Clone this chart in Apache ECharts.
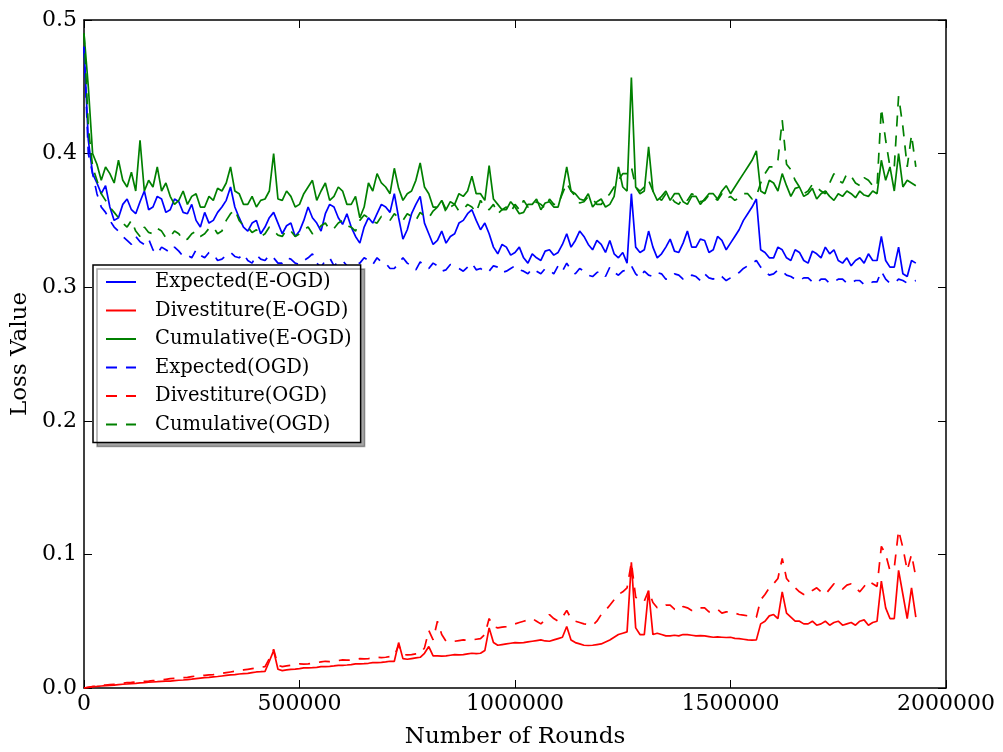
<!DOCTYPE html>
<html>
<head>
<meta charset="utf-8">
<script src="https://cdn.jsdelivr.net/npm/echarts@6/dist/echarts.min.js"></script>
<style>
html,body{margin:0;padding:0;background:#fff;}
#chart{width:1003px;height:752px;}
</style>
</head>
<body>
<div id="chart"></div>
<script>
// x grid (number of rounds)
const rounds = [0,10000,20000,30000,40000,50000,60000,70000,80000,90000,
100000,110000,120000,130000,140000,150000,160000,170000,180000,190000,
200000,210000,220000,230000,240000,250000,260000,270000,280000,290000,
300000,310000,320000,330000,340000,350000,360000,370000,380000,390000,
400000,410000,420000,430000,440000,450000,460000,470000,480000,490000,
500000,510000,520000,530000,540000,550000,560000,570000,580000,590000,
600000,610000,620000,630000,640000,650000,660000,670000,680000,690000,
700000,710000,720000,730000,740000,750000,760000,770000,780000,790000,
800000,810000,820000,830000,840000,850000,860000,870000,880000,890000,
900000,910000,920000,930000,940000,950000,960000,970000,980000,990000,
1000000,1010000,1020000,1030000,1040000,1050000,1060000,1070000,1080000,1090000,
1100000,1110000,1120000,1130000,1140000,1150000,1160000,1170000,1180000,1190000,
1200000,1210000,1220000,1230000,1240000,1250000,1260000,1270000,1280000,1290000,
1300000,1310000,1320000,1330000,1340000,1350000,1360000,1370000,1380000,1390000,
1400000,1410000,1420000,1430000,1440000,1450000,1460000,1470000,1480000,1490000,
1500000,1510000,1520000,1530000,1540000,1550000,1560000,1570000,1580000,1590000,
1600000,1610000,1620000,1630000,1640000,1650000,1660000,1670000,1680000,1690000,
1700000,1710000,1720000,1730000,1740000,1750000,1760000,1770000,1780000,1790000,
1800000,1810000,1820000,1830000,1840000,1850000,1860000,1870000,1880000,1890000,
1900000,1910000,1920000,1930000];

const expectedEOGD = [0.48,0.41,0.385,0.378,0.37,0.376,0.36,0.35,0.352,0.362,
0.366,0.358,0.355,0.364,0.372,0.358,0.36,0.368,0.366,0.356,
0.358,0.366,0.364,0.356,0.355,0.362,0.35,0.345,0.356,0.348,
0.35,0.356,0.36,0.365,0.375,0.36,0.352,0.345,0.342,0.348,
0.35,0.34,0.345,0.352,0.356,0.348,0.34,0.346,0.348,0.338,
0.342,0.35,0.36,0.352,0.348,0.342,0.355,0.362,0.36,0.352,
0.347,0.355,0.345,0.338,0.333,0.345,0.352,0.348,0.355,0.362,
0.36,0.356,0.37,0.352,0.336,0.343,0.355,0.362,0.368,0.348,
0.34,0.332,0.335,0.342,0.333,0.338,0.34,0.348,0.35,0.355,
0.358,0.35,0.343,0.348,0.34,0.33,0.325,0.332,0.33,0.324,
0.326,0.33,0.322,0.318,0.325,0.322,0.32,0.327,0.328,0.324,
0.326,0.332,0.34,0.33,0.335,0.342,0.338,0.332,0.328,0.335,
0.332,0.326,0.335,0.325,0.322,0.326,0.318,0.37,0.33,0.326,
0.328,0.342,0.33,0.322,0.325,0.33,0.336,0.327,0.326,0.333,
0.342,0.33,0.33,0.336,0.335,0.326,0.328,0.338,0.335,0.328,
0.333,0.338,0.343,0.35,0.355,0.36,0.366,0.328,0.326,0.322,
0.322,0.33,0.328,0.322,0.32,0.328,0.326,0.32,0.318,0.327,
0.325,0.322,0.33,0.325,0.328,0.32,0.318,0.322,0.316,0.32,
0.322,0.318,0.325,0.32,0.32,0.338,0.32,0.315,0.315,0.33,
0.31,0.308,0.32,0.318];

const divestitureEOGD = [0,0.0005,0.001,0.0012,0.0015,0.0018,0.002,0.0022,0.0025,0.0028,
0.003,0.0033,0.0035,0.0038,0.004,0.0043,0.0045,0.0047,0.005,0.0051,
0.0052,0.0055,0.0058,0.006,0.0063,0.0066,0.007,0.0074,0.0078,0.008,
0.0083,0.0086,0.009,0.0094,0.0098,0.01,0.0105,0.0108,0.011,0.0115,
0.012,0.0122,0.0125,0.02,0.028,0.014,0.013,0.0135,0.014,0.0142,
0.0145,0.015,0.015,0.0152,0.0155,0.016,0.016,0.0162,0.0165,0.017,
0.017,0.0172,0.0175,0.018,0.018,0.0182,0.0185,0.019,0.019,0.0192,
0.0195,0.02,0.02,0.034,0.022,0.0215,0.022,0.0225,0.023,0.026,
0.031,0.024,0.024,0.0238,0.024,0.0245,0.025,0.0248,0.025,0.0255,
0.026,0.0258,0.026,0.028,0.045,0.034,0.032,0.0325,0.033,0.0335,
0.034,0.0338,0.034,0.0345,0.035,0.0355,0.036,0.0352,0.035,0.036,
0.037,0.038,0.046,0.036,0.034,0.033,0.032,0.0318,0.032,0.0325,
0.033,0.0345,0.036,0.038,0.04,0.041,0.042,0.094,0.045,0.04,
0.04,0.073,0.04,0.041,0.04,0.039,0.039,0.0395,0.039,0.04,
0.04,0.0395,0.039,0.0392,0.039,0.0385,0.038,0.0382,0.038,0.0378,
0.038,0.0372,0.037,0.0365,0.036,0.0358,0.036,0.048,0.05,0.054,
0.055,0.052,0.072,0.056,0.053,0.05,0.05,0.048,0.048,0.05,
0.047,0.048,0.05,0.047,0.049,0.05,0.047,0.048,0.049,0.047,
0.05,0.051,0.047,0.049,0.05,0.08,0.06,0.052,0.052,0.088,
0.07,0.052,0.075,0.053];

const cumulativeEOGD = [0.49,0.45,0.40,0.392,0.38,0.39,0.385,0.378,0.395,0.38,
0.375,0.386,0.372,0.41,0.372,0.38,0.375,0.39,0.372,0.378,
0.368,0.362,0.365,0.372,0.362,0.368,0.37,0.36,0.36,0.368,
0.365,0.374,0.372,0.378,0.39,0.372,0.37,0.362,0.362,0.368,
0.36,0.365,0.366,0.372,0.40,0.366,0.365,0.372,0.368,0.36,
0.362,0.37,0.375,0.38,0.365,0.372,0.378,0.365,0.368,0.375,
0.372,0.362,0.362,0.368,0.352,0.36,0.378,0.372,0.385,0.378,
0.375,0.37,0.389,0.374,0.365,0.37,0.372,0.38,0.393,0.375,
0.37,0.36,0.36,0.365,0.358,0.364,0.362,0.37,0.368,0.372,
0.383,0.37,0.37,0.365,0.391,0.366,0.362,0.358,0.358,0.364,
0.36,0.355,0.356,0.362,0.362,0.366,0.358,0.363,0.364,0.36,
0.36,0.372,0.39,0.372,0.37,0.366,0.365,0.37,0.36,0.364,
0.366,0.36,0.362,0.368,0.39,0.375,0.372,0.457,0.375,0.37,
0.372,0.405,0.372,0.365,0.368,0.372,0.365,0.37,0.37,0.364,
0.362,0.368,0.368,0.362,0.366,0.37,0.37,0.366,0.372,0.376,
0.37,0.375,0.38,0.385,0.39,0.395,0.402,0.372,0.37,0.38,
0.378,0.372,0.385,0.376,0.368,0.374,0.375,0.368,0.37,0.374,
0.366,0.37,0.372,0.368,0.365,0.37,0.368,0.372,0.37,0.367,
0.372,0.369,0.368,0.372,0.37,0.395,0.38,0.39,0.372,0.40,
0.375,0.38,0.378,0.376];

const expectedOGD = [0.48,0.40,0.385,0.37,0.36,0.356,0.35,0.345,0.342,0.338,
0.335,0.332,0.338,0.334,0.332,0.336,0.328,0.325,0.33,0.328,
0.326,0.33,0.327,0.323,0.324,0.322,0.328,0.324,0.322,0.326,
0.325,0.32,0.321,0.324,0.326,0.323,0.322,0.325,0.32,0.318,
0.324,0.321,0.32,0.324,0.322,0.318,0.318,0.322,0.321,0.318,
0.317,0.32,0.322,0.325,0.318,0.315,0.32,0.322,0.316,0.319,
0.32,0.316,0.314,0.318,0.318,0.322,0.32,0.317,0.322,0.319,
0.318,0.314,0.314,0.318,0.322,0.318,0.316,0.313,0.319,0.316,
0.314,0.318,0.316,0.312,0.313,0.317,0.316,0.314,0.312,0.315,
0.318,0.313,0.314,0.311,0.312,0.316,0.315,0.311,0.312,0.314,
0.316,0.313,0.312,0.31,0.314,0.312,0.31,0.314,0.313,0.31,
0.316,0.312,0.318,0.313,0.31,0.314,0.312,0.309,0.308,0.311,
0.312,0.308,0.315,0.311,0.309,0.312,0.313,0.316,0.31,0.307,
0.312,0.309,0.308,0.311,0.31,0.306,0.307,0.31,0.309,0.306,
0.306,0.309,0.308,0.305,0.31,0.307,0.306,0.309,0.308,0.305,
0.307,0.309,0.311,0.314,0.316,0.318,0.32,0.315,0.312,0.309,
0.31,0.313,0.312,0.309,0.308,0.306,0.305,0.307,0.307,0.304,
0.303,0.306,0.306,0.303,0.304,0.306,0.306,0.303,0.303,0.305,
0.305,0.302,0.302,0.304,0.304,0.312,0.306,0.303,0.303,0.306,
0.305,0.303,0.304,0.305];

const divestitureOGD = [0,0.0005,0.001,0.0015,0.002,0.0022,0.0025,0.0028,0.003,0.0035,
0.004,0.0042,0.0045,0.0048,0.005,0.0052,0.0055,0.0058,0.006,0.0065,
0.007,0.0072,0.0075,0.0078,0.008,0.0085,0.009,0.0092,0.0095,0.0098,
0.01,0.0105,0.011,0.0115,0.012,0.0125,0.013,0.0135,0.014,0.0145,
0.015,0.0155,0.016,0.022,0.029,0.017,0.016,0.0165,0.017,0.0175,
0.018,0.0178,0.018,0.0185,0.019,0.0195,0.02,0.0198,0.02,0.0205,
0.021,0.0208,0.021,0.0215,0.022,0.0218,0.022,0.0225,0.023,0.0228,
0.023,0.0235,0.024,0.032,0.025,0.0248,0.025,0.0255,0.026,0.03,
0.043,0.036,0.05,0.04,0.035,0.0352,0.035,0.0355,0.036,0.0358,
0.036,0.0365,0.037,0.04,0.052,0.046,0.045,0.0455,0.046,0.047,
0.048,0.049,0.05,0.051,0.052,0.05,0.048,0.051,0.055,0.052,
0.05,0.053,0.058,0.052,0.05,0.049,0.048,0.0475,0.047,0.05,
0.055,0.058,0.062,0.066,0.07,0.072,0.075,0.094,0.068,0.065,
0.065,0.073,0.064,0.06,0.06,0.062,0.062,0.059,0.058,0.061,
0.06,0.058,0.058,0.06,0.06,0.057,0.058,0.059,0.056,0.057,
0.057,0.056,0.055,0.0545,0.054,0.0535,0.053,0.066,0.07,0.075,
0.078,0.082,0.097,0.082,0.078,0.075,0.072,0.07,0.07,0.073,
0.075,0.072,0.07,0.074,0.078,0.076,0.074,0.077,0.078,0.075,
0.072,0.076,0.08,0.078,0.076,0.106,0.1,0.088,0.09,0.118,
0.105,0.088,0.1,0.083];

const cumulativeOGD = [0.49,0.42,0.39,0.38,0.37,0.365,0.36,0.356,0.352,0.348,
0.345,0.35,0.342,0.338,0.345,0.341,0.34,0.344,0.342,0.337,
0.338,0.342,0.34,0.335,0.336,0.34,0.342,0.338,0.34,0.344,
0.345,0.34,0.342,0.35,0.355,0.358,0.35,0.346,0.345,0.341,
0.343,0.338,0.34,0.345,0.342,0.339,0.338,0.343,0.342,0.338,
0.34,0.343,0.345,0.34,0.342,0.346,0.348,0.343,0.344,0.348,
0.35,0.346,0.345,0.342,0.35,0.354,0.352,0.349,0.348,0.353,
0.352,0.35,0.355,0.352,0.35,0.355,0.353,0.35,0.356,0.353,
0.352,0.357,0.36,0.365,0.356,0.36,0.362,0.357,0.358,0.362,
0.36,0.356,0.365,0.36,0.358,0.362,0.355,0.358,0.36,0.356,
0.362,0.358,0.365,0.36,0.36,0.364,0.362,0.359,0.366,0.362,
0.362,0.37,0.378,0.372,0.368,0.363,0.364,0.368,0.366,0.362,
0.362,0.366,0.37,0.375,0.38,0.385,0.385,0.39,0.375,0.372,
0.375,0.38,0.372,0.368,0.365,0.37,0.368,0.364,0.362,0.367,
0.365,0.37,0.368,0.364,0.365,0.369,0.368,0.365,0.37,0.366,
0.368,0.365,0.367,0.37,0.37,0.366,0.368,0.378,0.385,0.39,
0.39,0.395,0.425,0.392,0.388,0.38,0.375,0.37,0.372,0.377,
0.375,0.372,0.37,0.378,0.385,0.38,0.378,0.385,0.383,0.378,
0.376,0.382,0.38,0.376,0.375,0.434,0.41,0.39,0.39,0.443,
0.42,0.39,0.414,0.39];

const seriesNames = ['Expected(E-OGD)','Divestiture(E-OGD)','Cumulative(E-OGD)',
                     'Expected(OGD)','Divestiture(OGD)','Cumulative(OGD)'];
const xTicks = [0, 500000, 1000000, 1500000, 2000000];
const yTicks = [0.0, 0.1, 0.2, 0.3, 0.4, 0.5];

const FONT = 'DejaVu Serif';
const colors = ['#0000ff','#ff0000','#008000','#0000ff','#ff0000','#008000'];
const values = [expectedEOGD, divestitureEOGD, cumulativeEOGD, expectedOGD, divestitureOGD, cumulativeOGD];

const series = values.map((vals, k) => ({
  name: seriesNames[k],
  type: 'line',
  xAxisIndex: 0,
  yAxisIndex: 0,
  showSymbol: false,
  symbol: 'none',
  animation: false,
  data: rounds.map((r, i) => [r, vals[i]]),
  lineStyle: {color: colors[k], width: 1.7, type: k >= 3 ? [11, 9] : 'solid'},
  itemStyle: {color: colors[k]}
}));

const chart = echarts.init(document.getElementById('chart'), null, {renderer: 'canvas'});
const axisCommon = {
  axisLine: {show: true, onZero: false, lineStyle: {color: '#000', width: 1.5}},
  axisTick: {show: true, inside: true, length: 8, lineStyle: {color: '#000', width: 1}},
  splitLine: {show: false}
};
chart.setOption({
  animation: false,
  backgroundColor: '#fff',
  textStyle: {fontFamily: FONT},
  grid: {left: 84, right: 57, top: 20, bottom: 64, containLabel: false, outerBoundsMode: 'none'},
  legend: {
    orient: 'vertical',
    left: 93, top: 265,
    data: seriesNames,
    itemWidth: 30, itemHeight: 14,
    itemGap: 6.5,
    padding: [6, 9, 7, 12],
    backgroundColor: '#fff',
    borderColor: '#000', borderWidth: 1.5, borderRadius: 0,
    shadowColor: 'rgba(0,0,0,0.35)', shadowBlur: 0, shadowOffsetX: 4, shadowOffsetY: 4,
    itemStyle: {opacity: 0, borderWidth: 0},
    textStyle: {fontFamily: FONT, fontSize: 19.5, color: '#000', lineHeight: 22, padding: [0,0,0,14]},
    selectedMode: false
  },
  xAxis: [
    Object.assign({
      type: 'value', min: xTicks[0], max: xTicks[xTicks.length-1], interval: 500000,
      position: 'bottom',
      name: 'Number of Rounds', nameLocation: 'middle', nameGap: 38,
      nameTextStyle: {fontFamily: FONT, fontSize: 23, color: '#000'},
      axisLabel: {fontFamily: FONT, fontSize: 22, color: '#000', margin: 5, formatter: v => String(v)}
    }, axisCommon),
    Object.assign({
      type: 'value', min: xTicks[0], max: xTicks[xTicks.length-1], interval: 500000,
      position: 'top', axisLabel: {show: false}
    }, axisCommon)
  ],
  yAxis: [
    Object.assign({
      type: 'value', min: yTicks[0], max: yTicks[yTicks.length-1], interval: 0.1,
      position: 'left',
      name: 'Loss Value', nameLocation: 'middle', nameGap: 52,
      nameTextStyle: {fontFamily: FONT, fontSize: 23, color: '#000'},
      axisLabel: {fontFamily: FONT, fontSize: 22, color: '#000', margin: 7, formatter: v => v.toFixed(1)}
    }, axisCommon),
    Object.assign({
      type: 'value', min: yTicks[0], max: yTicks[yTicks.length-1], interval: 0.1,
      position: 'right', axisLabel: {show: false}
    }, axisCommon)
  ],
  series: series
});
</script>
</body>
</html>
